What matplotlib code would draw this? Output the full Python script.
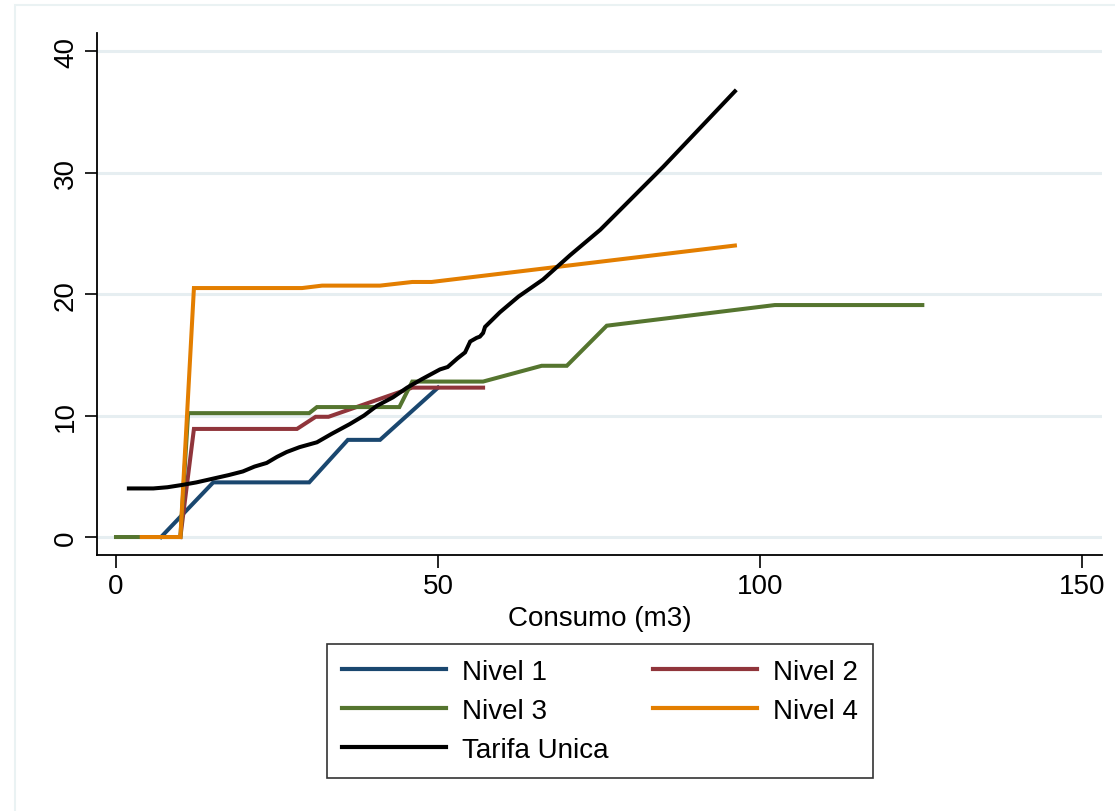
import matplotlib
matplotlib.use("Agg")
import matplotlib.pyplot as plt
from matplotlib.patches import Rectangle

plt.rcParams['font.family'] = ['Liberation Sans', 'DejaVu Sans']

# Data (Consumo m3 vs tariff)
n1_x = [7.0, 15.1, 30.0, 36.0, 41.0, 50.0]
n1_y = [0.0, 4.5, 4.5, 8.0, 8.0, 12.3]

n2_x = [10.0, 12.1, 28.1, 31.0, 33.0, 46.0, 57.0]
n2_y = [0.0, 8.9, 8.9, 9.9, 9.9, 12.3, 12.3]

n3_x = [0.0, 10.0, 11.2, 30.0, 31.2, 44.0, 46.0, 57.0, 66.1, 70.0, 76.2, 102.3, 125.2]
n3_y = [0.0, 0.0, 10.2, 10.2, 10.7, 10.7, 12.8, 12.8, 14.1, 14.1, 17.4, 19.1, 19.1]

n4_x = [4.0, 10.0, 12.1, 28.9, 32.0, 41.0, 46.0, 49.0, 96.1]
n4_y = [0.0, 0.0, 20.5, 20.5, 20.7, 20.7, 21.0, 21.0, 24.0]

tu_x = [2.0, 5.8, 8.0, 10.4, 12.5, 15.0, 17.5, 19.7, 21.5, 23.4, 25.0, 26.5, 28.5,
        31.2, 33.5, 36.3, 38.5, 40.5, 43.0, 45.2, 47.5, 50.3, 51.5, 53.0, 54.2,
        55.0, 56.0, 56.5, 57.0, 57.3, 59.6, 62.5, 66.3, 70.5, 75.2, 85.0, 96.1]
tu_y = [4.0, 4.0, 4.1, 4.3, 4.5, 4.8, 5.1, 5.4, 5.8, 6.1, 6.6, 7.0, 7.4,
        7.8, 8.5, 9.3, 10.0, 10.8, 11.5, 12.3, 13.0, 13.8, 14.0, 14.7, 15.2,
        16.1, 16.4, 16.5, 16.8, 17.3, 18.5, 19.8, 21.2, 23.2, 25.3, 30.5, 36.7]

series = [
    ("Nivel 1", n1_x, n1_y, "#1A476F"),
    ("Nivel 2", n2_x, n2_y, "#90353B"),
    ("Nivel 3", n3_x, n3_y, "#55752F"),
    ("Nivel 4", n4_x, n4_y, "#E37E00"),
    ("Tarifa Unica", tu_x, tu_y, "#000000"),
]

xticks = [0, 50, 100, 150]
yticks = [0, 10, 20, 30, 40]

fig = plt.figure(figsize=(11.15, 8.12), dpi=100)
fig.patch.set_facecolor("white")
# faint outer frame
fig.add_artist(Rectangle((15/1115, -0.01), 1.2, 1 - 6/812 + 0.01,
                         transform=fig.transFigure, fill=False,
                         edgecolor="#EAF2F3", linewidth=1.5))

ax = fig.add_axes([97/1115, 1 - 556/812, (1102 - 97)/1115, (556 - 34)/812])
ax.set_xlim(-2.95, 153.1)
ax.set_ylim(-1.48, 41.5)

for y in yticks:
    ax.axhline(y, color="#E6EEF1", linewidth=2.2, zorder=0)

handles = {}
for label, xs, ys, c in series:
    (ln,) = ax.plot(xs, ys, color=c, linewidth=2.9, label=label, solid_joinstyle="miter")
    handles[label] = ln

ax.set_xticks(xticks)
ax.set_yticks(yticks)
ax.set_yticklabels([str(v) for v in yticks], rotation=90, va="center")
ax.tick_params(axis="both", labelsize=20, length=9, width=1.2, color="black", pad=4)
ax.spines["top"].set_visible(False)
ax.spines["right"].set_visible(False)
ax.spines["left"].set_linewidth(1.3)
ax.spines["bottom"].set_linewidth(1.3)
ax.set_xlabel("Consumo (m3)", fontsize=20, labelpad=4)

order = ["Nivel 1", "Nivel 3", "Tarifa Unica", "Nivel 2", "Nivel 4"]
leg = fig.legend([handles[k] for k in order], order,
                 loc="upper center", bbox_to_anchor=(600/1115, 1 - 645/812),
                 ncol=2, fontsize=20, frameon=True, fancybox=False,
                 handlelength=3.74, handletextpad=0.58, columnspacing=1.6,
                 labelspacing=0.47, borderpad=0.53, borderaxespad=0)
leg.get_frame().set_edgecolor("black")
leg.get_frame().set_linewidth(1.2)
for h in leg.get_lines():
    h.set_linewidth(3)

fig.savefig("out.png", dpi=100, facecolor="white")
